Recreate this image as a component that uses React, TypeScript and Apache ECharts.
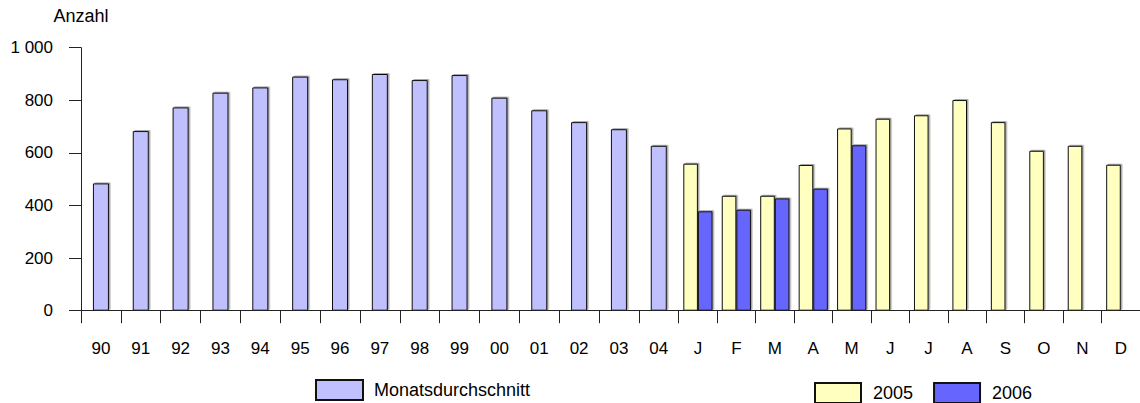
import React, { useEffect, useRef } from "react";
import * as echarts from "echarts";

const years = ["90", "91", "92", "93", "94", "95", "96", "97", "98", "99", "00", "01", "02", "03", "04"];
const yearAvg = [484, 683, 773, 829, 849, 890, 880, 900, 877, 896, 810, 762, 717, 690, 627];
const months = ["J", "F", "M", "A", "M", "J", "J", "A", "S", "O", "N", "D"];
const m2005 = [559, 437, 437, 554, 693, 730, 743, 801, 717, 608, 627, 555];
const m2006 = [378, 384, 427, 464, 629, null, null, null, null, null, null, null];

const FONT = "'Liberation Sans', Arial, sans-serif";
const FS = 17;
const FS_BIG = 18;

export default function App() {
  const ref = useRef<HTMLDivElement>(null);
  useEffect(() => {
    const chart = echarts.init(ref.current!, null, { renderer: "svg" });
    const top = 47.7;
    const height = 263;
    const axisColor = "#222";
    const shadow = {
      shadowColor: "rgba(0,0,0,0.35)",
      shadowBlur: 1,
      shadowOffsetX: 1.5,
      shadowOffsetY: -1,
    };
    const xCommon = {
      type: "category" as const,
      axisLine: { show: true, lineStyle: { color: axisColor, width: 1 } },
      axisTick: { show: true, length: 12.5, lineStyle: { color: axisColor } },
      axisLabel: { margin: 29, fontSize: FS, fontFamily: FONT, color: "#000" },
      splitLine: { show: false },
    };
    chart.setOption({
      animation: false,
      textStyle: { fontFamily: FONT },
      grid: [
        { left: 81, top, width: 597.7, height },
        { left: 678.7, top, width: 464.4, height },
      ],
      xAxis: [
        { ...xCommon, gridIndex: 0, data: years },
        { ...xCommon, gridIndex: 1, data: months },
      ],
      yAxis: [
        {
          type: "value",
          gridIndex: 0,
          min: 0,
          max: 1000,
          interval: 200,
          name: "Anzahl",
          nameLocation: "end",
          nameGap: 32,
          nameTextStyle: { fontSize: FS_BIG, fontFamily: FONT, color: "#000", align: "center", verticalAlign: "middle" },
          axisLine: { show: true, lineStyle: { color: axisColor, width: 1 } },
          axisTick: { show: true, length: 12, lineStyle: { color: axisColor } },
          axisLabel: {
            margin: 28,
            fontSize: FS,
            fontFamily: FONT,
            color: "#000",
            formatter: (v: number) => String(v).replace(/\B(?=(\d{3})+(?!\d))/g, " "),
          },
          splitLine: { show: false },
        },
        {
          type: "value",
          gridIndex: 1,
          min: 0,
          max: 1000,
          interval: 200,
          show: false,
          splitLine: { show: false },
        },
      ],
      legend: [
        {
          data: ["Monatsdurchschnitt"],
          left: 315,
          top: 379,
          icon: "rect",
          itemWidth: 47,
          itemHeight: 20,
          padding: 0,
          textStyle: { fontSize: FS_BIG, fontFamily: FONT, color: "#000", padding: [0, 0, 0, 6] },
        },
        {
          data: ["2005", "2006"],
          left: 814,
          top: 382,
          icon: "rect",
          itemWidth: 46,
          itemHeight: 20,
          itemGap: 20,
          padding: 0,
          textStyle: { fontSize: FS_BIG, fontFamily: FONT, color: "#000", padding: [0, 0, 0, 7] },
        },
      ],
      series: [
        {
          name: "Monatsdurchschnitt",
          type: "bar",
          xAxisIndex: 0,
          yAxisIndex: 0,
          data: yearAvg,
          barWidth: 16,
          itemStyle: { color: "#C0C0FF", borderColor: "#111", borderWidth: 1, ...shadow },
        },
        {
          name: "2005",
          type: "bar",
          xAxisIndex: 1,
          yAxisIndex: 1,
          data: m2005,
          barWidth: 14.6,
          barGap: "0%",
          itemStyle: { color: "#FFFFC0", borderColor: "#111", borderWidth: 1, ...shadow },
        },
        {
          name: "2006",
          type: "bar",
          xAxisIndex: 1,
          yAxisIndex: 1,
          data: m2006,
          barWidth: 14.6,
          barGap: "0%",
          itemStyle: { color: "#6666FF", borderColor: "#111", borderWidth: 1, ...shadow },
        },
      ],
    });
    return () => chart.dispose();
  }, []);
  return (
    <div
      ref={ref}
      style={{ position: "fixed", left: 0, top: 0, width: 1140, height: 403, background: "#fff" }}
    />
  );
}
